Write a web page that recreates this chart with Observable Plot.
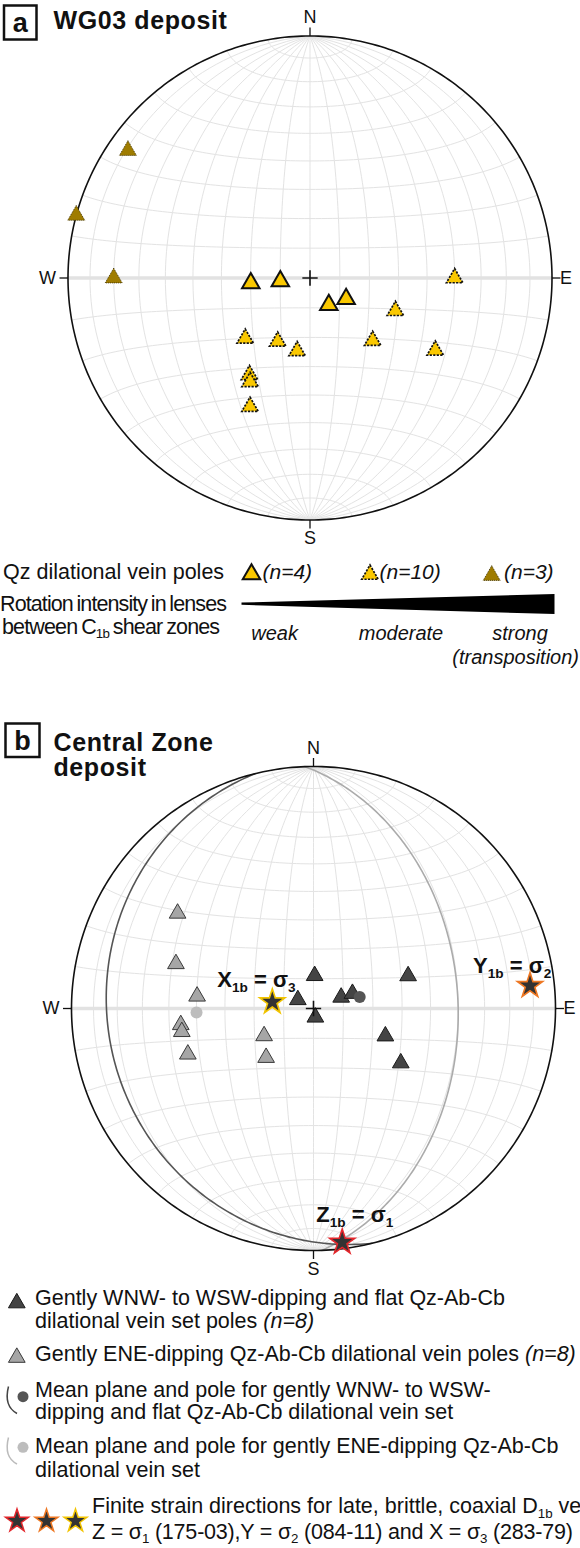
<!DOCTYPE html>
<html>
<head>
<meta charset="utf-8">
<script src="https://cdn.jsdelivr.net/npm/d3@7"></script>
<script src="https://cdn.jsdelivr.net/npm/@observablehq/plot@0.6"></script>
<style>
  html, body { margin:0; padding:0; background:#fff; overflow:hidden; }
  #root { position:relative; width:580px; height:1548px; overflow:hidden; background:#fff; }
  #root > svg { position:absolute; left:0; }
</style>
</head>
<body>
<div id="root"></div>
<script>
const FONT = '"Liberation Sans", Arial, Helvetica, sans-serif';

// ---------------- DATA ----------------
// Panel a — WG03 deposit: poles to Qz dilational veins, [trend°, plunge°]
const weakPoles = [[265, 70], [264, 80], [145, 79], [120, 76]];
const moderatePoles = [[90, 40], [111, 59], [227, 60], [207, 66], [190, 65], [135, 60], [120, 40], [212, 51], [210, 49], [205, 41]];
const strongPoles = [[305, 9], [285, 0], [270, 20]];
const rotationClasses = ["weak", "moderate", "strong", "(transposition)"];
const countLabelsA = ["(n=4)", "(n=10)", "(n=3)"];

// Panel b — Central Zone deposit: poles [trend°, plunge°]
const wnwPoles = [[2, 79], [71, 56], [299, 84], [68, 80], [69, 76], [168, 87], [111, 64], [122, 55]];
const enePoles = [[305, 32], [288, 40], [276, 50], [263, 44], [260, 44], [250, 44], [241, 71], [224, 67]];
const meanPoleWnw = [76, 74];
const meanPoleEne = [268, 50];
const strainNames = ["Z", "Y", "X"];
const strainSigma = ["1", "2", "3"];
const strainAxes = [[173, 3], [84, 11], [279, 76]];
const strainStroke = ["#e3262b", "#ee7722", "#f2c400"];

const compass = ["N", "E", "S", "W"];

// ---------------- GEOMETRY HELPERS ----------------
const rad = Math.PI / 180, deg = 180 / Math.PI;
function lineVec(trend, plunge) {
  const t = trend * rad, p = plunge * rad;
  return [Math.cos(p) * Math.cos(t), Math.cos(p) * Math.sin(t), Math.sin(p)]; // north, east, down
}
function vecToNet([n, e, d]) {
  return [Math.atan2(e, d) * deg, Math.asin(Math.max(-1, Math.min(1, n))) * deg];
}
function lineToNet(trend, plunge) { return vecToNet(lineVec(trend, plunge)); }
function toDots(arr) {
  return arr.map(([trend, plunge]) => { const [lon, lat] = lineToNet(trend, plunge); return {trend, plunge, lon, lat}; });
}
function greatCircleFromPole(trend, plunge) {
  const dd = trend + 180, dip = 90 - plunge;
  const s = lineVec(dd - 90, 0), dv = lineVec(dd, dip);
  const coords = [];
  for (let a = 0; a <= 180; a += 1) {
    const c = Math.cos(a * rad), sn = Math.sin(a * rad);
    coords.push(vecToNet([c * s[0] + sn * dv[0], c * s[1] + sn * dv[1], c * s[2] + sn * dv[2]]));
  }
  return {type: "LineString", coordinates: coords};
}
function graticule() {
  const lines = [];
  for (let lon = -80; lon <= 80; lon += 10) { const c = []; for (let lat = -90; lat <= 90; lat += 2) c.push([lon, lat]); lines.push(c); }
  for (let lat = -80; lat <= 80; lat += 10) { if (lat === 0) continue; const c = []; for (let lon = -90; lon <= 90; lon += 2) c.push([lon, lat]); lines.push(c); }
  return {type: "MultiLineString", coordinates: lines};
}
const equator = {type: "LineString", coordinates: [[-90, 0], [-45, 0], [0, 0], [45, 0], [90, 0]]};
const primitive = d3.geoCircle().center([0, 0]).radius(90).precision(1)();

const compassDirs = compass.map((label, i) => { const [lon, lat] = lineToNet(i * 90, 0); return {label, lon, lat, i}; });
const tickSymbol = (i) => ({draw(ctx) { const a = i * 90 * rad; ctx.moveTo(0, 0); ctx.lineTo(Math.sin(a) * 8.5, -Math.cos(a) * 8.5); }});
const labelOpts = [
  {dy: -13, lineAnchor: "bottom"},
  {dx: 8, textAnchor: "start", lineAnchor: "middle"},
  {dy: 11.5, lineAnchor: "top"},
  {dx: -12, textAnchor: "end", lineAnchor: "middle"}
];

function baseMarks() {
  return [
    Plot.geo([graticule()], {stroke: "#e3e3e3", strokeWidth: 1, fill: "none"}),
    Plot.geo([equator], {stroke: "#e2e2e2", strokeWidth: 3.5, fill: "none"})
  ];
}
function frameMarks() {
  return [
    Plot.geo([primitive], {stroke: "#111", strokeWidth: 1.6, fill: "none"}),
    ...compassDirs.flatMap(c => [
      Plot.dot([c], {x: "lon", y: "lat", symbol: tickSymbol(c.i), r: 1, stroke: "#111", strokeWidth: 1.3, fill: "none"}),
      Plot.text([c], {x: "lon", y: "lat", text: "label", fontSize: 18, fill: "#111", ...labelOpts[c.i]})
    ])
  ];
}
const centre = [{lon: 0, lat: 0}];
const crossMark = () => Plot.dot(centre, {x: "lon", y: "lat", symbol: "plus", r: 5, stroke: "#111", strokeWidth: 1.6});

function fillRich(node, str, size) {
  node.textContent = "";
  const parts = str.split(/(_\{[^}]*\}|\*[^*]+\*)/).filter(s => s);
  let shifted = 0;
  const subSize = size * 0.62, shift = size * 0.22;
  for (const p of parts) {
    const ts = document.createElementNS("http://www.w3.org/2000/svg", "tspan");
    if (p.startsWith("_{")) {
      ts.textContent = p.slice(2, -1);
      ts.setAttribute("font-size", subSize);
      ts.setAttribute("dy", shift - shifted);
      shifted = shift;
    } else {
      let s = p;
      if (p.startsWith("*")) { s = p.slice(1, -1); ts.setAttribute("font-style", "italic"); }
      ts.textContent = s;
      if (shifted) { ts.setAttribute("dy", -shifted); shifted = 0; }
    }
    node.appendChild(ts);
  }
}

const root = document.getElementById("root");
function stereonet({top, height, ml, mr, mt, mb, marks}) {
  const svg = Plot.plot({
    width: 580, height,
    marginLeft: ml, marginRight: mr, marginTop: mt, marginBottom: mb,
    projection: {type: "azimuthal-equal-area", domain: primitive, clip: false},
    style: {fontFamily: FONT, background: "transparent", overflow: "visible"},
    marks
  });
  svg.style.top = top + "px";
  svg.querySelectorAll("text").forEach(t => {
    if (t.textContent.includes("_{")) fillRich(t, t.textContent, 22);
  });
  root.appendChild(svg);
  return svg;
}

// ---------------- PANEL A ----------------
stereonet({
  top: 0, height: 545, ml: 67.5, mr: 28.5, mt: 35.5, mb: 25.5,
  marks: [
    ...baseMarks(),
    ...frameMarks(),
    crossMark(),
    Plot.dot(toDots(strongPoles), {x: "lon", y: "lat", symbol: "triangle", r: 6.3, fill: "#9f7c00", stroke: "#3b2f00", strokeWidth: 0.9, strokeDasharray: "1,1"}),
    Plot.dot(toDots(moderatePoles), {x: "lon", y: "lat", symbol: "triangle", r: 6.1, fill: "#fac800", stroke: "#111", strokeWidth: 1.7, strokeDasharray: "2.2,1.3"}),
    Plot.dot(toDots(weakPoles), {x: "lon", y: "lat", symbol: "triangle", r: 6.5, fill: "#fac800", stroke: "#111", strokeWidth: 2})
  ]
});

// ---------------- PANEL B ----------------
const strainData = strainAxes.map(([t, p], i) => {
  const [lon, lat] = lineToNet(t, p);
  return {lon, lat, name: strainNames[i], sigma: strainSigma[i], stroke: strainStroke[i], label: `${strainNames[i]}_{1b} = σ_{${strainSigma[i]}}`};
});
const starLabelOffsets = [{dx: -26, dy: -20}, {dx: -57, dy: -13}, {dx: -55, dy: -15}];
const meanDots = [meanPoleWnw, meanPoleEne];
stereonet({
  top: 700, height: 580, ml: 71, mr: 25, mt: 66, mb: 30,
  marks: [
    ...baseMarks(),
    Plot.geo([greatCircleFromPole(...meanPoleEne)], {stroke: "#ababab", strokeWidth: 1.6, fill: "none"}),
    Plot.geo([greatCircleFromPole(...meanPoleWnw)], {stroke: "#555", strokeWidth: 1.6, fill: "none"}),
    ...frameMarks(),
    Plot.dot(toDots(enePoles), {x: "lon", y: "lat", symbol: "triangle", r: 6.2, fill: "#a6a6a6", stroke: "#3a3a3a", strokeWidth: 1}),
    Plot.dot(toDots(wnwPoles), {x: "lon", y: "lat", symbol: "triangle", r: 6.2, fill: "#444", stroke: "#1a1a1a", strokeWidth: 1}),
    Plot.dot(toDots([meanDots[0]]), {x: "lon", y: "lat", r: 6, fill: "#555"}),
    Plot.dot(toDots([meanDots[1]]), {x: "lon", y: "lat", r: 6, fill: "#bdbdbd"}),
    crossMark(),
    ...strainData.flatMap((d, i) => [
      Plot.dot([d], {x: "lon", y: "lat", symbol: "star", r: 7.9, fill: "#333", stroke: d.stroke, strokeWidth: 1.6}),
      Plot.text([d], {x: "lon", y: "lat", text: "label", fontSize: 22, fontWeight: "bold", fill: "#111", textAnchor: "start", lineAnchor: "bottom", ...starLabelOffsets[i]})
    ])
  ]
});

// ---------------- TITLES & LEGENDS (overlay) ----------------
const ov = d3.select(root).append("svg")
  .attr("width", 580).attr("height", 1548)
  .style("top", "0px").style("pointer-events", "none").style("overflow", "hidden");

const FS = 21.5;
function txt(x, y, str, o = {}) {
  const size = o.size || FS;
  const t = ov.append("text").attr("x", x).attr("y", y)
    .attr("font-size", size).attr("font-family", FONT).attr("fill", "#111");
  if (o.weight) t.attr("font-weight", o.weight);
  if (o.italic) t.attr("font-style", "italic");
  if (o.anchor) t.attr("text-anchor", o.anchor);
  if (o.ls != null) t.attr("letter-spacing", o.ls);
  if (o.ws != null) t.attr("word-spacing", o.ws);
  fillRich(t.node(), str, size);
  return t;
}
function sym(type, r, x, y, style) {
  const p = ov.append("path").attr("d", d3.symbol(type, Math.PI * r * r)()).attr("transform", `translate(${x},${y})`);
  for (const k in style) p.attr(k, style[k]);
  return p;
}

// panel titles
ov.append("rect").attr("x", 4).attr("y", 5.5).attr("width", 32.5).attr("height", 34).attr("fill", "none").attr("stroke", "#111").attr("stroke-width", 2.5);
txt(20.3, 31.5, "a", {size: 27, weight: "bold", anchor: "middle"});
txt(53.5, 28.5, "WG03 deposit", {size: 25, weight: "bold", ls: 0.6});

ov.append("rect").attr("x", 5.5).attr("y", 723.5).attr("width", 34).attr("height", 33.5).attr("fill", "none").attr("stroke", "#111").attr("stroke-width", 2.5);
txt(22.5, 750, "b", {size: 27, weight: "bold", anchor: "middle"});
txt(53.5, 750.5, "Central Zone", {size: 25, weight: "bold", ls: 0.6});
txt(53.5, 776, "deposit", {size: 25, weight: "bold", ls: 0.6});

// legend a
txt(3, 578.5, "Qz dilational vein poles");
sym(d3.symbolTriangle, 6.5, 251.5, 574.3, {fill: "#fac800", stroke: "#111", "stroke-width": 2});
sym(d3.symbolTriangle, 6.1, 370, 574.5, {fill: "#fac800", stroke: "#111", "stroke-width": 1.7, "stroke-dasharray": "2.2,1.3"});
sym(d3.symbolTriangle, 6.3, 491.7, 575.5, {fill: "#9f7c00", stroke: "#3b2f00", "stroke-width": 0.9, "stroke-dasharray": "1,1"});
[262.5, 379.5, 504].forEach((x, i) => txt(x, 578.5, countLabelsA[i], {italic: true, size: 21}));
txt(0, 611, "Rotation intensity in lenses", {ls: -0.9, ws: -1.5});
txt(2, 633.5, "between C_{1b} shear zones", {ls: -0.85, ws: -1.3});
ov.append("polygon").attr("points", "241.5,602.6 554.5,594 554.5,614 241.5,604.8").attr("fill", "#000");
[[274.6, 639.5], [401, 639.5], [520, 639.5], [579, 664]].forEach(([x, y], i) =>
  txt(x, y, rotationClasses[i], {size: 20, italic: true, anchor: i === 3 ? "end" : "middle"}));

// legend b
sym(d3.symbolTriangle, 6.2, 16.8, 1303, {fill: "#444", stroke: "#1a1a1a", "stroke-width": 1});
txt(35, 1304.5, "Gently WNW- to WSW-dipping and flat Qz-Ab-Cb");
txt(35, 1327.5, "dilational vein set poles *(n=8)*");
sym(d3.symbolTriangle, 6.2, 16.8, 1357.5, {fill: "#a6a6a6", stroke: "#3a3a3a", "stroke-width": 1});
txt(35, 1361, "Gently ENE-dipping Qz-Ab-Cb dilational vein poles *(n=8)*");
ov.append("path").attr("d", "M8.5,1386.5 Q3.5,1406 17,1413.5").attr("fill", "none").attr("stroke", "#444").attr("stroke-width", 1.5);
ov.append("circle").attr("cx", 23).attr("cy", 1396.7).attr("r", 5.5).attr("fill", "#555");
txt(35, 1396.5, "Mean plane and pole for gently WNW- to WSW-");
txt(35, 1418.5, "dipping and flat Qz-Ab-Cb dilational vein set");
ov.append("path").attr("d", "M8.5,1437.5 Q3.5,1457 17,1464").attr("fill", "none").attr("stroke", "#bbb").attr("stroke-width", 1.5);
ov.append("circle").attr("cx", 23).attr("cy", 1447.3).attr("r", 5.5).attr("fill", "#bdbdbd");
txt(35, 1453, "Mean plane and pole for gently ENE-dipping Qz-Ab-Cb");
txt(35, 1477, "dilational vein set");
[17, 46.5, 75.5].forEach((x, i) => sym(d3.symbolStar, 7.2, x, 1521, {fill: "#333", stroke: strainStroke[i], "stroke-width": 1.5}));
txt(92, 1513, "Finite strain directions for late, brittle, coaxial D_{1b} ve");
txt(92, 1538.5, "Z = σ_{1} (175-03),Y = σ_{2} (084-11) and X = σ_{3} (283-79)", {ls: -0.2});
</script>
</body>
</html>
